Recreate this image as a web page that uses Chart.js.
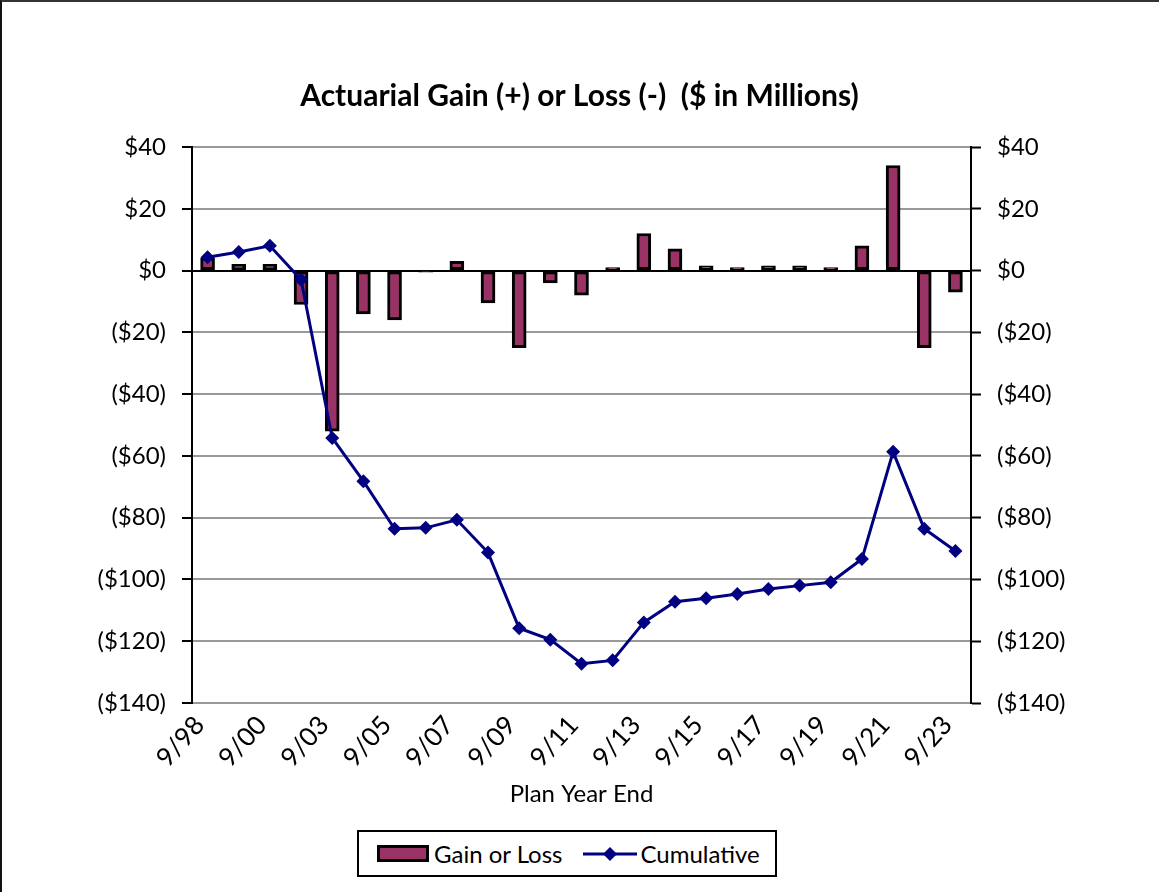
<!DOCTYPE html>
<html>
<head>
<meta charset="utf-8">
<script src="https://cdn.jsdelivr.net/npm/chart.js@4.4.1/dist/chart.umd.min.js"></script>
<style>
  html, body { margin: 0; padding: 0; background: #fff; }
  #wrap { position: relative; width: 1159px; height: 892px; overflow: hidden; font-family: Lato, "Open Sans", sans-serif; }
  #frame { position: absolute; left: 0; top: 0; width: 1170px; height: 900px; border-left: 2px solid #111; border-top: 2px solid #333; box-sizing: border-box; pointer-events: none; }
  canvas { position: absolute; left: 0; top: 0; }
  #legend { position: absolute; left: 357px; top: 830px; width: 420px; height: 47px; border: 2px solid #000; box-sizing: border-box;
            display: flex; align-items: center; padding-left: 18px; font-size: 24px; color: #000; background: #fff; }
  #legend .bar { width: 52px; height: 17px; background: #993366; border: 3px solid #000; box-sizing: border-box; margin-right: 5px; }
  #legend .gap { width: 20px; }
  #legend svg { margin-right: 4px; }
</style>
</head>
<body>
<div id="wrap">
  <canvas id="c" width="1159" height="892"></canvas>
  <div id="frame"></div>
  <div id="legend">
    <span class="bar"></span><span>Gain or Loss</span><span class="gap"></span>
    <svg width="54" height="18" viewBox="0 0 54 18"><line x1="0" y1="9" x2="54" y2="9" stroke="#000080" stroke-width="3"/><polygon points="27,2 34,9 27,16 20,9" fill="#000080"/></svg>
    <span>Cumulative</span>
  </div>
</div>
<script>
// Plan year end labels
const categories = ['9/98','9/99','9/00','9/02','9/03','9/04','9/05','9/06','9/07','9/08','9/09','9/10','9/11',
                    '9/12','9/13','9/14','9/15','9/16','9/17','9/18','9/19','9/20','9/21','9/22','9/23'];

// Annual actuarial gain (+) or loss (-), $ millions
const gainOrLoss = [4, 2, 2, -11, -52, -14, -16, -0.5, 3, -10.5, -25, -4, -8,
                    1, 12, 7, 1.5, 1, 1.5, 1.5, 1, 8, 34, -25, -7];

// Running cumulative total, $ millions
const cumulative = [4.3, 6, 8, -3, -54.2, -68.2, -83.6, -83.3, -80.7, -91.3, -115.8, -119.5, -127.3,
                    -126.2, -113.9, -107.2, -106.1, -104.7, -103.1, -102, -100.9, -93.4, -58.7, -83.6, -90.8];

// Value axis range
const axisMin = -140;
const axisMax = 40;
const axisStep = 20;

const FONT = 'Lato, "Open Sans", sans-serif';

function money(v) {
  if (v < 0) return '($' + Math.abs(v) + ')';
  return '$' + v;
}

const yTicks = {
  stepSize: axisStep,
  color: '#000',
  padding: 16,
  font: { family: FONT, size: 24 },
  callback: (v) => money(v)
};

new Chart(document.getElementById('c'), {
  data: {
    labels: categories,
    datasets: [
      {
        type: 'line',
        label: 'Cumulative',
        data: cumulative,
        yAxisID: 'y',
        borderColor: '#000080',
        backgroundColor: '#000080',
        borderWidth: 3,
        pointStyle: 'rectRot',
        pointRadius: 7,
        pointBorderWidth: 0,
        pointBackgroundColor: '#000080',
        tension: 0,
        order: 1
      },
      {
        type: 'bar',
        label: 'Gain or Loss',
        data: gainOrLoss,
        yAxisID: 'y',
        backgroundColor: '#993366',
        borderColor: '#000',
        borderWidth: 3,
        borderSkipped: false,
        barThickness: 14,
        order: 2
      }
    ]
  },
  options: {
    responsive: false,
    animation: false,
    devicePixelRatio: 1,
    layout: { padding: { left: 0, right: 0, top: 0, bottom: 80 } },
    plugins: {
      legend: { display: false },
      tooltip: { enabled: false },
      title: {
        display: true,
        text: 'Actuarial Gain (+) or Loss (-)  ($ in Millions)',
        color: '#000',
        font: { family: FONT, size: 30, weight: 'bold' },
        padding: { top: 78, bottom: 33 }
      }
    },
    scales: {
      x: {
        offset: true,
        grid: { display: false, drawTicks: false },
        border: { display: true, color: '#999', width: 2 },
        ticks: {
          autoSkip: false,
          minRotation: 48,
          maxRotation: 48,
          padding: 7,
          labelOffset: -8,
          color: '#000',
          font: { family: FONT, size: 26 },
          // every second plan year is labelled
          callback: (val, idx) => (idx % 2 === 0 ? categories[idx] : '')
        },
        title: {
          display: true,
          text: 'Plan Year End',
          color: '#000',
          font: { family: FONT, size: 24 },
          padding: { top: 0, bottom: 3 }
        },
        afterFit: (s) => { s.height = 109; }
      },
      y: {
        position: 'left',
        min: axisMin,
        max: axisMax,
        ticks: yTicks,
        grid: {
          color: (ctx) => ctx.tick && ctx.tick.value === 0 ? '#000' : '#999',
          lineWidth: 2,
          tickLength: 10,
          tickColor: '#000',
          tickWidth: 2
        },
        border: { color: '#000', width: 2 },
        afterFit: (s) => { s.width = 192; }
      },
      y1: {
        position: 'right',
        min: axisMin,
        max: axisMax,
        ticks: yTicks,
        grid: {
          drawOnChartArea: false,
          tickLength: 10,
          tickColor: '#000',
          tickWidth: 2
        },
        border: { color: '#000', width: 2 },
        afterFit: (s) => { s.width = 188; }
      }
    }
  }
});
</script>
</body>
</html>
